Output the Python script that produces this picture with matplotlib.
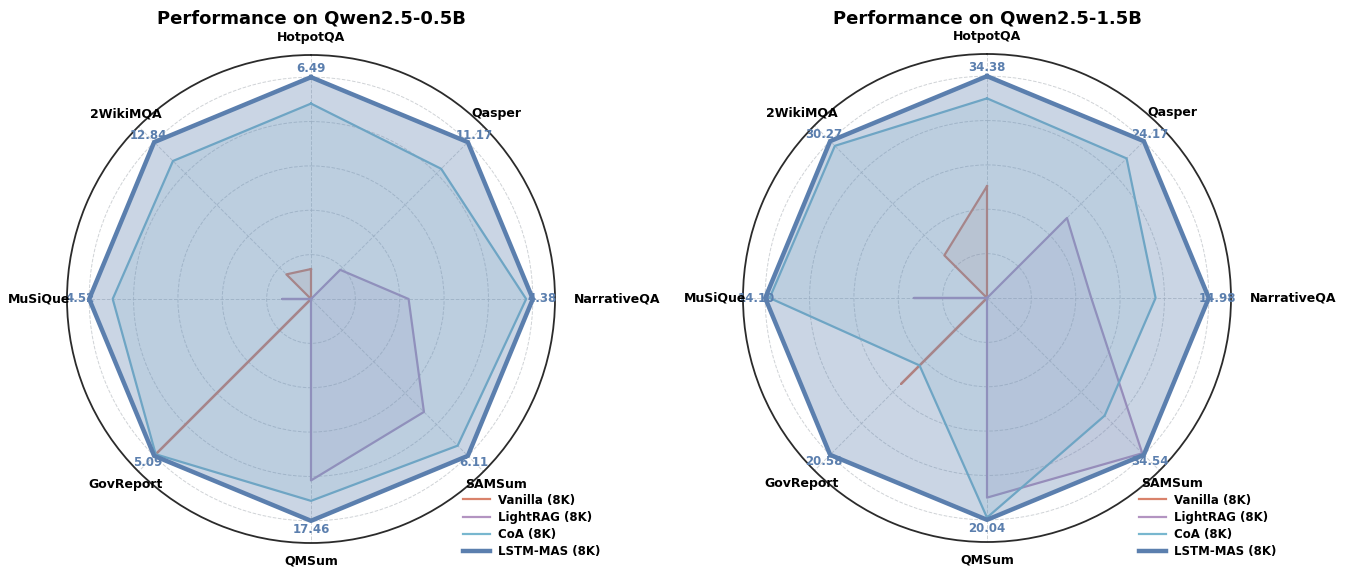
import numpy as np
import matplotlib
matplotlib.use('Agg')
import matplotlib.pyplot as plt

# axes, clockwise from top
categories = ['HotpotQA', 'Qasper', 'NarrativeQA', 'SAMSum',
              'QMSum', 'GovReport', 'MuSiQue', '2WikiMQA']
methods = ['Vanilla (8K)', 'LightRAG (8K)', 'CoA (8K)', 'LSTM-MAS (8K)']

# scores relative to LSTM-MAS on each dataset (LSTM-MAS = 1.0)
vanilla_05 = [0.135, 0.0, 0.0, 0.0, 0.0, 0.99, 0.0, 0.157]
lightrag_05 = [0.0, 0.186, 0.44, 0.72, 0.818, 0.0, 0.13, 0.0]
coa_05 = [0.881, 0.83, 0.97, 0.935, 0.91, 0.99, 0.894, 0.88]
lstm_05 = [1.0, 1.0, 1.0, 1.0, 1.0, 1.0, 1.0, 1.0]
lstm_labels_05 = ['6.49', '11.17', '4.38', '6.11', '17.46', '5.09', '4.52', '12.84']

vanilla_15 = [0.504, 0.0, 0.0, 0.0, 0.0, 0.547, 0.0, 0.272]
lightrag_15 = [0.0, 0.51, 0.47, 0.99, 0.90, 0.0, 0.33, 0.0]
coa_15 = [0.90, 0.89, 0.76, 0.75, 0.99, 0.43, 0.98, 0.97]
lstm_15 = [1.0, 1.0, 1.0, 1.0, 1.0, 1.0, 1.0, 1.0]
lstm_labels_15 = ['34.38', '24.17', '14.98', '34.54', '20.04', '20.58', '14.10', '30.27']

colors = ['#d9826b', '#b394c1', '#78b7cf', '#5b7fae']
widths = [1.6, 1.6, 1.6, 3.2]
fill_alpha = [0.15, 0.15, 0.15, 0.32]

W, H = 1351, 568
fig = plt.figure(figsize=(W / 100, H / 100), dpi=100)


def radar(cx, cy, title, series, labels):
    R = 244  # pixel radius of outer circle
    ax = fig.add_axes([(cx - R) / W, 1 - (cy + R) / H, 2 * R / W, 2 * R / H],
                      projection='polar')
    n = len(categories)
    angles = np.arange(n) * 2 * np.pi / n
    ax.set_theta_offset(np.pi / 2)
    ax.set_theta_direction(-1)
    ax.set_ylim(0, 1.1)
    ax.set_yticks([0.2, 0.4, 0.6, 0.8, 1.0])
    ax.set_yticklabels([])
    ax.set_xticks(angles)
    ax.set_xticklabels([])
    ax.grid(True, color='#c4c8cc', linestyle='--', linewidth=0.7, alpha=0.8)
    ax.tick_params(length=0)
    ax.spines['polar'].set_color('#2b2b2b')
    ax.spines['polar'].set_linewidth(1.3)

    closed = np.append(angles, angles[0])
    for i, vals in enumerate(series):
        v = np.append(vals, vals[0])
        z = 2 + i
        ax.fill(closed, v, color=colors[i], alpha=fill_alpha[i], zorder=z, lw=0)
        ax.plot(closed, v, color=colors[i], lw=widths[i], label=methods[i],
                zorder=z + (0.8 if i == 3 else 0))

    for a, lab, v in zip(angles, labels, series[3]):
        ax.text(a, v + 0.04, lab, ha='center', va='center', fontsize=8.5,
                fontweight='bold', color='#5b7fae', zorder=5.5)

    # dataset names
    for a, name in zip(angles, categories):
        if name == 'NarrativeQA':
            ax.text(a, 1.183, name, ha='left', va='center', fontsize=9,
                    fontweight='bold', zorder=10)
        elif name == 'MuSiQue':
            ax.text(a, 1.084, name, ha='right', va='center', fontsize=9,
                    fontweight='bold', zorder=10)
        else:
            ax.text(a, 1.18, name, ha='center', va='center', fontsize=9,
                    fontweight='bold', zorder=10)

    fig.text(cx / W, 1 - 18 / H, title, ha='center', va='center',
             fontsize=13, fontweight='bold')

    ax.legend(loc='upper left', bbox_to_anchor=((cx + 141) / W, 1 - 483 / H),
              bbox_transform=fig.transFigure, frameon=False,
              prop={'size': 8.5, 'weight': 'bold'}, labelspacing=0.36,
              handlelength=2.3, handletextpad=0.7)
    return ax


radar(311, 299, 'Performance on Qwen2.5-0.5B',
      [vanilla_05, lightrag_05, coa_05, lstm_05], lstm_labels_05)
radar(987, 298, 'Performance on Qwen2.5-1.5B',
      [vanilla_15, lightrag_15, coa_15, lstm_15], lstm_labels_15)

fig.savefig('out.png', dpi=100)
